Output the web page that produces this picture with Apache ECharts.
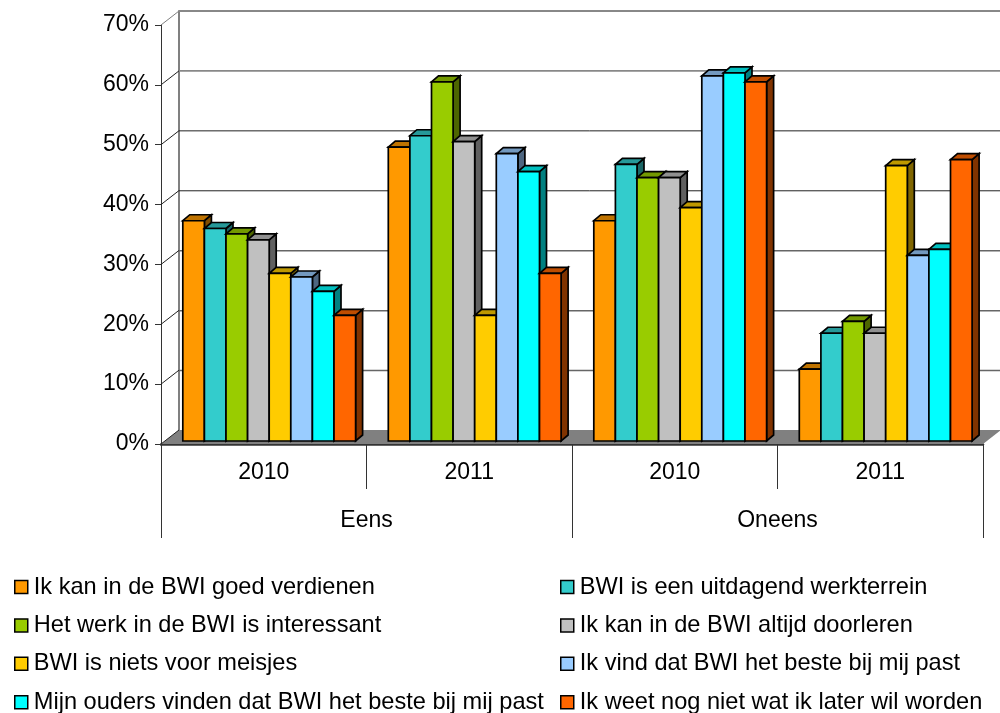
<!DOCTYPE html>
<html><head><meta charset="utf-8">
<style>html,body{margin:0;padding:0;background:#fff}#c{width:1000px;height:713px}</style>
<script src="https://cdn.jsdelivr.net/npm/echarts@6/dist/echarts.min.js"></script>
</head><body><div id="c"></div>
<script>
const years = ['2010', '2011', '2010 ', '2011 '];
const groups = ['Eens', 'Oneens'];
const yTicks = [0, 10, 20, 30, 40, 50, 60, 70];
const names = ['Ik kan in de BWI goed verdienen','BWI is een uitdagend werkterrein','Het werk in de BWI is interessant','Ik kan in de BWI altijd doorleren','BWI is niets voor meisjes','Ik vind dat BWI het beste bij mij past','Mijn ouders vinden dat BWI het beste bij mij past','Ik weet nog niet wat ik later wil worden'];
const colors = ['#FF9900','#33CCCC','#99CC00','#C0C0C0','#FFCC00','#99CCFF','#00FFFF','#FF6600'];
const verdienen = [36.8, 49.1, 36.8, 12];
const uitdagend = [35.5, 51, 46.2, 18];
const interessant = [34.6, 60, 44, 20];
const doorleren = [33.6, 50, 44, 18];
const meisjes = [28, 21, 39, 46];
const bijMij = [27.4, 48, 61, 31];
const ouders = [25, 45, 61.5, 32];
const weetNiet = [21, 28, 60, 47];
const seriesValues = [verdienen, uitdagend, interessant, doorleren, meisjes, bijMij, ouders, weetNiet];

const FONT = 'Liberation Sans, Arial, sans-serif';
const DX = 18, DY = 14, BDX = 7, BDY = 6, LIFT = 3, BAR_W = 21.6, GROUP_PAD = 21.8;
function shade(hex, f) {
  const n = parseInt(hex.slice(1), 16);
  return 'rgb(' + [n >> 16 & 255, n >> 8 & 255, n & 255].map(v => Math.round(v * f)).join(',') + ')';
}
const chart = echarts.init(document.getElementById('c'), null, {renderer: 'canvas'});
const barSeries = names.map((name, s) => ({
  type: 'custom', name, xAxisIndex: 0, yAxisIndex: 0, z: 5, clip: false,
  coordinateSystem: 'cartesian2d',
  itemStyle: {color: colors[s], borderColor: '#000', borderWidth: 1},
  data: seriesValues[s].map((v, i) => [i, v]),
  renderItem(params, api) {
    const base = api.coord([api.value(0), 0]);
    const top = api.coord([api.value(0), api.value(1)]);
    const band = api.size([1, 0])[0];
    const x0 = base[0] - band / 2 + GROUP_PAD + s * BAR_W, x1 = x0 + BAR_W;
    const yb = base[1] - LIFT, yt = top[1] - LIFT;
    const line = {stroke: '#000', lineWidth: 1.7, lineJoin: 'miter'};
    return {type: 'group', children: [
      {type: 'polygon', shape: {points: [[x1, yt], [x1 + BDX, yt - BDY], [x1 + BDX, yb - BDY], [x1, yb]]}, style: {fill: shade(colors[s], .5), ...line}},
      {type: 'polygon', shape: {points: [[x0, yt], [x0 + BDX, yt - BDY], [x1 + BDX, yt - BDY], [x1, yt]]}, style: {fill: shade(colors[s], .75), ...line}},
      {type: 'rect', shape: {x: x0, y: yt, width: BAR_W, height: yb - yt}, style: {fill: colors[s], ...line}}
    ]};
  }
}));
const wallSeries = {
  type: 'custom', xAxisIndex: 0, yAxisIndex: 0, z: 3, clip: false, silent: true,
  data: yTicks.map(t => [0, t]),
  renderItem(params, api) {
    const p = api.coord([0, api.value(1)]);
    const band = api.size([1, 0])[0];
    const x = p[0] - band / 2;
    const kids = [{type: 'line', shape: {x1: x, y1: p[1], x2: x + DX, y2: p[1] - DY}, style: {stroke: api.value(1) === 70 ? '#808080' : '#222', lineWidth: 1}}];
    if (api.value(1) === 0) {
      kids.unshift({type: 'polygon', shape: {points: [[x, p[1]], [x + DX, p[1] - DY], [x + DX + band * 4, p[1] - DY], [x + band * 4, p[1]]]}, style: {fill: '#808080'}});
    }
    return {type: 'group', children: kids};
  }
};
const backLines = {
  type: 'custom', xAxisIndex: 2, yAxisIndex: 1, z: 2, clip: false, silent: true,
  data: yTicks.filter(t => t > 0).map(t => [0, t]),
  renderItem(params, api) {
    const t = api.value(1);
    const p = api.coord([0, t]);
    const band = api.size([1, 0])[0];
    const x = p[0] - band / 2;
    const thick = t >= 60, dark = t === 40 || t === 50;
    return {type: 'line', shape: {x1: x, y1: p[1], x2: x + band * 4, y2: p[1]},
      style: {stroke: thick ? '#888' : dark ? '#222' : '#666', lineWidth: t === 70 ? 2.2 : thick ? 1.8 : dark ? 1 : 1.5}};
  }
};
function makeLegend(left, data) {
  return {orient: 'vertical', left, top: 570, height: 143, itemWidth: 13, itemHeight: 13, itemGap: 14.4, icon: 'rect',
    data, textStyle: {fontFamily: FONT, fontSize: 23.6, color: '#000', padding: [0, 0, 0, 1]}, itemStyle: {borderColor: '#000', borderWidth: 1.5}, selectedMode: false};
}
chart.setOption({
  animation: false, backgroundColor: '#fff',
  legend: [makeLegend(9, names.filter((_, i) => i % 2 === 0)), makeLegend(555, names.filter((_, i) => i % 2 === 1))],
  grid: [
    {left: 161, top: 25, width: 822, height: 419},
    {left: 179, top: 11, width: 822, height: 419.5}
  ],
  xAxis: [
    {gridIndex: 0, type: 'category', data: years, position: 'bottom',
      axisLine: {show: true, lineStyle: {color: '#333', width: 2.5}},
      axisTick: {show: true, length: 45, lineStyle: {color: '#333', width: 1}},
      axisLabel: {margin: 17, interval: 0, fontFamily: FONT, fontSize: 23, color: '#000', formatter: v => v.trim()}},
    {gridIndex: 0, type: 'category', data: groups, position: 'bottom',
      axisLine: {show: false},
      axisTick: {show: true, length: 94, lineStyle: {color: '#333', width: 1}},
      axisLabel: {margin: 65, interval: 0, fontFamily: FONT, fontSize: 23, color: '#000'}},
    {gridIndex: 1, type: 'category', data: years, position: 'bottom', axisLine: {show: false}, axisTick: {show: false}, axisLabel: {show: false}}
  ],
  yAxis: [
    {gridIndex: 0, type: 'value', min: 0, max: 70, interval: 10,
      axisLine: {show: true, lineStyle: {color: '#333', width: 1}},
      axisTick: {show: true, length: 6, lineStyle: {color: '#333'}},
      axisLabel: {margin: 12, fontFamily: FONT, fontSize: 23, color: '#000', formatter: v => v + '%'},
      splitLine: {show: false}},
    {gridIndex: 1, type: 'value', min: 0, max: 70, interval: 10,
      axisLine: {show: true, lineStyle: {color: '#808080', width: 2}},
      axisTick: {show: false}, axisLabel: {show: false},
      splitLine: {show: false}}
  ],
  series: [backLines, wallSeries, ...barSeries]
});
</script></body></html>
